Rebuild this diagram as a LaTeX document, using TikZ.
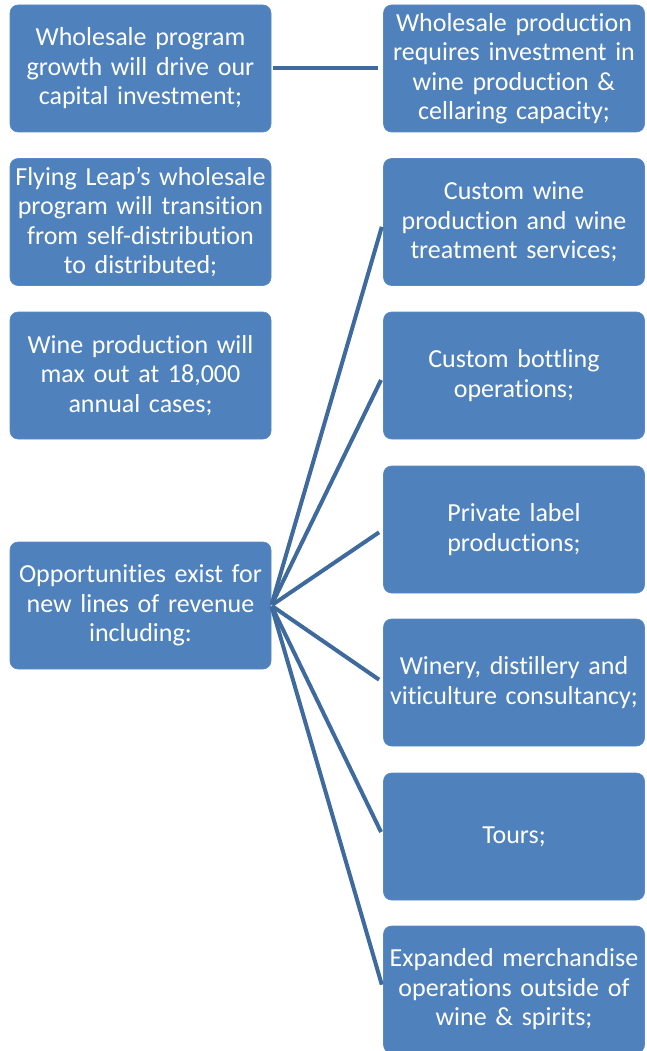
\documentclass[tikz,border=0pt]{standalone}
\usepackage{fontspec}
\setmainfont{Carlito}[RawFeature={-liga;-calt;-dlig;-clig}]
\definecolor{boxblue}{HTML}{4F81BD}
\definecolor{boxedge}{HTML}{5A8AC4}
\definecolor{linkblue}{HTML}{3E6A9E}
\begin{document}
\begin{tikzpicture}[x=1pt,y=-1pt,
  card/.style={rectangle, rounded corners=8pt, fill=boxblue, draw=boxedge, line width=0.6pt,
    minimum width=261pt, minimum height=127pt, text width=261pt, align=center, inner sep=0pt,
    text=white, font=\fontsize{26}{29.5}\selectfont},
  link/.style={draw=linkblue, line width=4pt}]
\useasboundingbox (0,0) rectangle (646,1051);
\node[card] (L1) at (140.5,68.5) {Wholesale program\\growth will drive our\\capital investment;};
\node[card] (L2) at (140.5,222) {Flying Leap’s wholesale\\program will transition\\from self-distribution\\to distributed;};
\node[card] (L3) at (140.5,375.5) {Wine production will\\max out at 18,000\\annual cases;};
\node[card] (L4) at (140.5,605.5) {Opportunities exist for\\new lines of revenue\\including:};
\node[card] (R1) at (514,68.5) {Wholesale production\\requires investment in\\wine production \&\\cellaring capacity;};
\node[card] (R2) at (514,222) {Custom wine\\production and wine\\treatment services;};
\node[card] (R3) at (514,375.5) {Custom bottling\\operations;};
\node[card] (R4) at (514,529.5) {Private label\\productions;};
\node[card] (R5) at (514,682.5) {Winery, distillery and\\viticulture consultancy;};
\node[card] (R6) at (514,836.5) {Tours;};
\node[card] (R7) at (514,989.5) {Expanded merchandise\\operations outside of\\wine \& spirits;};
\draw[link, shorten <=2pt, shorten >=5pt] (L1.east) -- (R1.west);
\foreach \r in {R2,R3,R4,R5,R6,R7}{
  \draw[link, shorten <=1pt, shorten >=5pt] (L4.east) -- (\r.west);
}
\end{tikzpicture}
\end{document}
